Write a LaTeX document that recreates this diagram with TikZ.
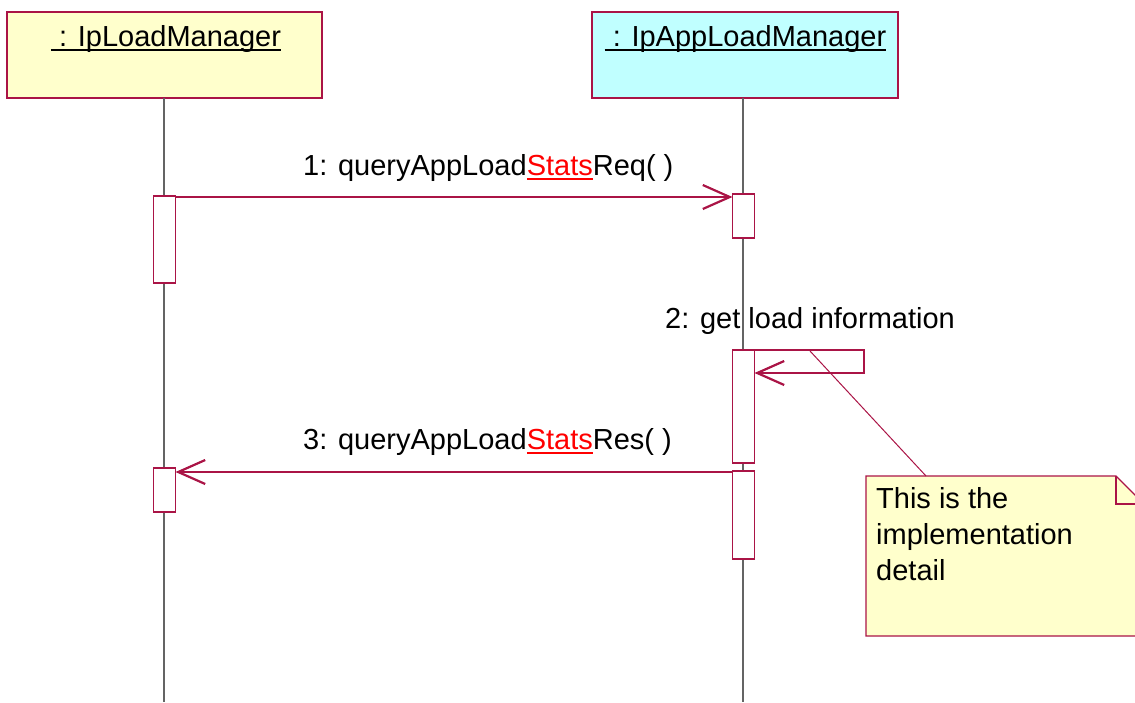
\documentclass[tikz,border=0pt]{standalone}
\usepackage{fontspec}
\setmainfont{Liberation Sans}
\usetikzlibrary{arrows.meta}
\definecolor{bord}{RGB}{170,20,70}
\definecolor{yel}{RGB}{255,255,204}
\definecolor{cya}{RGB}{192,255,255}
\definecolor{life}{RGB}{100,100,100}
\definecolor{redtxt}{RGB}{255,0,0}
\newcommand{\myul}[1]{\setbox0\hbox{#1}\rlap{\vrule height -3pt depth 5pt width \wd0}\box0}
\newcommand{\st}{\textcolor{redtxt}{\myul{Stats}}}
\begin{document}
\begin{tikzpicture}[x=1pt,y=-1pt,
  every node/.style={font=\fontsize{29}{36}\selectfont},
  objbox/.style={draw=bord,line width=1.2pt,rectangle,inner sep=0pt,outer sep=0pt,minimum width=315pt,minimum height=86pt},
  actbox/.style={draw=bord,fill=white,line width=1.2pt,rectangle,inner sep=0pt,outer sep=0pt,minimum width=22pt},
  lifeline/.style={draw=life,line width=1.3pt},
  msg/.style={draw=bord,line width=1.3pt,-{Straight Barb[length=27pt,width=24pt,line width=2.2pt]}},
  lbl/.style={anchor=base west,inner sep=0pt},
  notebox/.style={rectangle,inner sep=0pt,outer sep=0pt,minimum width=278pt,minimum height=160pt}]
\useasboundingbox (0,0) rectangle (1135,702);
% objects
\node[objbox,fill=yel] (o1) at (164.5,55) {};
\node[objbox,fill=cya,minimum width=306pt] (o2) at (745,55) {};
\node[anchor=base,inner sep=0pt] (t1) at (166,46) {\myul{\ : IpLoadManager}};
\node[anchor=base,inner sep=0pt] (t2) at (745.5,46) {\myul{\ : IpAppLoadManager}};
% lifeline ends
\coordinate (e1) at (164,702);
\coordinate (e2) at (743,702);
\draw[lifeline] (o1.south -| e1) -- (e1);
\draw[lifeline] (o2.south -| e2) -- (e2);
% labels
\node[lbl] (l1) at (303,175) {1: queryAppLoad\st Req( )};
\node[lbl] (l2) at (665,328) {2: get load information};
\node[lbl] (l3) at (303,449) {3: queryAppLoad\st Res( )};
% activations
\node[actbox,minimum height=87pt] (a1L) at (164.5,239.5) {};
\node[actbox,minimum height=44pt] (a1R) at (743.5,216) {};
\node[actbox,minimum height=113pt] (a2R) at (743.5,406.5) {};
\node[actbox,minimum height=88pt] (a3R) at (743.5,515) {};
\node[actbox,minimum height=44pt] (a2L) at (164.5,490) {};
% messages
\coordinate (m1) at (0,197);
\draw[msg] (a1L.east |- m1) -- (a1R.west |- m1);
\coordinate (s1) at (864,351);
\coordinate (s2) at (864,373);
\draw[msg] (a2R.north east) -- (a2R.north east -| s1) -- (s2) -- (a2R.east |- s2);
\coordinate (m3) at (0,472);
\draw[msg] (a3R.west |- m3) -- (a2L.east |- m3);
% note
\node[notebox] (note) at (1005,556) {};
\draw[draw=bord,fill=yel,line width=1.2pt] (note.north west) -- ([xshift=-28pt]note.north east) -- ([yshift=-28pt]note.north east) -- (note.south east) -- (note.south west) -- cycle;
\draw[draw=bord,line width=1.2pt] ([xshift=-28pt]note.north east) -- ([xshift=-28pt,yshift=-28pt]note.north east) -- ([yshift=-28pt]note.north east);
\node[lbl,align=left] (nt) at (876,580) {This is the\\implementation\\detail};
\coordinate (nc) at (810,351);
\coordinate (ntop) at (926,476);
\draw[draw=bord,line width=1pt] (nc) -- (ntop);
\end{tikzpicture}
\end{document}
